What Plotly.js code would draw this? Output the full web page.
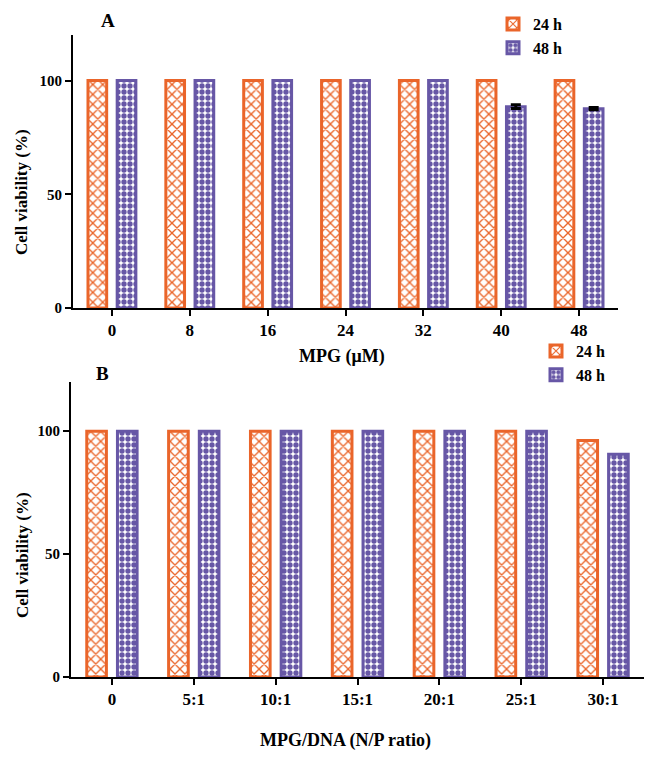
<!DOCTYPE html>
<html>
<head>
<meta charset="utf-8">
<script src="https://cdn.plot.ly/plotly-3.0.1.min.js"></script>
<style>html,body{margin:0;padding:0;background:#fff;}#chart{width:656px;height:761px;}</style>
</head>
<body>
<div id="chart"></div>
<script>
// ---- data ----
const catsA = ['0', '8', '16', '24', '32', '40', '48'];
const a24h = [100, 100, 100, 100, 100, 100, 100];
const a48h = [100, 100, 100, 100, 100, 88.5, 87.6];
const a48hErr = [NaN, NaN, NaN, NaN, NaN, 0.8, 0.5];

const catsB = ['0', '5:1', '10:1', '15:1', '20:1', '25:1', '30:1'];
const b24h = [100, 100, 100, 100, 100, 100, 96.2];
const b48h = [100, 100, 100, 100, 100, 100, 90.6];

const seriesNames = ['24 h', '48 h'];
const yTicks = [0, 50, 100];

// ---- style ----
const ORANGE = 'rgb(234,101,42)';
const PURPLE = 'rgb(103,87,166)';
const FONT = 'Liberation Serif, Times New Roman, serif';
const W = 656, H = 761;
const px = v => v / W;
const py = v => 1 - v / H;

function barTrace(x, y, name, color, shape, size, solidity, xa, ya, legend, err) {
  const t = {
    type: 'bar', x: x, y: y, name: name, xaxis: xa, yaxis: ya, legend: legend,
    marker: {
      color: 'white',
      line: {color: color, width: 3},
      pattern: {shape: shape, fgcolor: color, bgcolor: 'white', size: size, solidity: solidity, fillmode: 'replace'}
    },
    hoverinfo: 'skip'
  };
  if (err) {
    t.error_y = {type: 'data', array: err, visible: true, color: 'black', thickness: 3, width: 5};
  }
  return t;
}

const data = [
  barTrace(catsA, a24h, seriesNames[0], ORANGE, 'x', 7, 0.35, 'x', 'y', 'legend', null),
  barTrace(catsA, a48h, seriesNames[1], PURPLE, '.', 6, 0.62, 'x', 'y', 'legend', a48hErr),
  barTrace(catsB, b24h, seriesNames[0], ORANGE, 'x', 7, 0.35, 'x2', 'y2', 'legend2', null),
  barTrace(catsB, b48h, seriesNames[1], PURPLE, '.', 6, 0.62, 'x2', 'y2', 'legend2', null)
];

const xTickFont = {family: FONT, size: 17, color: 'black', weight: 'bold'};
const yTickFont = {family: FONT, size: 15, color: 'black', weight: 'bold'};
const axBase = {
  showline: true, linewidth: 2, linecolor: 'black', mirror: false,
  ticks: 'outside', ticklen: 6, tickwidth: 2, tickcolor: 'black',
  showgrid: false, zeroline: false, fixedrange: true
};

const legendFont = {family: FONT, size: 16, color: 'black', weight: 'bold'};
const ann = (text, x, y, size, angle) => ({
  text: text, x: px(x), y: py(y), xref: 'paper', yref: 'paper', showarrow: false,
  xanchor: 'center', yanchor: 'middle', textangle: angle || 0,
  font: {family: FONT, size: size, color: 'black', weight: 'bold'}
});

const layout = {
  width: W, height: H,
  margin: {l: 0, r: 0, t: 0, b: 0},
  paper_bgcolor: 'white', plot_bgcolor: 'white',
  barmode: 'group', bargap: 0.25, bargroupgap: 0.36,
  showlegend: true,
  xaxis: Object.assign({}, axBase, {domain: [px(73), px(618)], anchor: 'y', type: 'category', range: [-0.5, 6.5], tickfont: xTickFont}),
  yaxis: Object.assign({}, axBase, {domain: [1 - 308 / H, 1 - 35 / H], anchor: 'x', range: [0, 120], tickvals: yTicks, tickfont: yTickFont}),
  xaxis2: Object.assign({}, axBase, {domain: [px(71), px(644)], anchor: 'y2', type: 'category', range: [-0.5, 6.5], tickfont: xTickFont}),
  yaxis2: Object.assign({}, axBase, {domain: [1 - 677 / H, 1 - 382 / H], anchor: 'x2', range: [0, 120], tickvals: yTicks, tickfont: yTickFont}),
  legend: {x: px(493), y: py(7), xanchor: 'left', yanchor: 'top', bgcolor: 'rgba(0,0,0,0)', borderwidth: 0, font: legendFont, traceorder: 'normal'},
  legend2: {x: px(536), y: py(334), xanchor: 'left', yanchor: 'top', bgcolor: 'rgba(0,0,0,0)', borderwidth: 0, font: legendFont, traceorder: 'normal'},
  annotations: [
    ann('A', 108, 21, 19),
    ann('B', 102.5, 373, 19),
    ann('Cell viability (%)', 22, 192, 17, -90),
    ann('Cell viability (%)', 22, 555, 17, -90),
    ann('MPG (μM)', 342, 356, 18),
    ann('MPG/DNA (N/P ratio)', 345, 740, 18)
  ]
};

Plotly.newPlot('chart', data, layout, {displayModeBar: false, staticPlot: true});
</script>
</body>
</html>
